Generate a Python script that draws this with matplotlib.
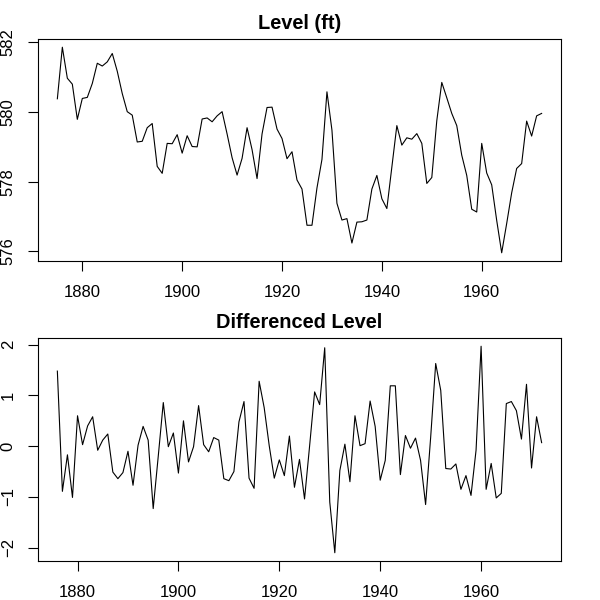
import numpy as np
import matplotlib
matplotlib.use("Agg")
import matplotlib.pyplot as plt

plt.rcParams['font.family'] = ['Liberation Sans', 'DejaVu Sans']

# Lake Huron level, 1875-1972 (ft)
years = list(range(1875, 1973))
level = [580.38, 581.86, 580.97, 580.80, 579.79, 580.39, 580.42, 580.82, 581.40, 581.32,
         581.44, 581.68, 581.17, 580.53, 580.01, 579.91, 579.14, 579.16, 579.55, 579.67,
         578.44, 578.24, 579.10, 579.09, 579.35, 578.82, 579.32, 579.01, 579.00, 579.80,
         579.83, 579.72, 579.89, 580.01, 579.37, 578.69, 578.19, 578.67, 579.55, 578.92,
         578.09, 579.37, 580.13, 580.14, 579.51, 579.24, 578.66, 578.86, 578.05, 577.79,
         576.75, 576.75, 577.82, 578.64, 580.58, 579.48, 577.38, 576.90, 576.94, 576.24,
         576.84, 576.85, 576.90, 577.79, 578.18, 577.51, 577.23, 578.42, 579.61, 579.05,
         579.26, 579.22, 579.38, 579.10, 577.95, 578.12, 579.75, 580.85, 580.41, 579.96,
         579.61, 578.76, 578.18, 577.21, 577.13, 579.10, 578.25, 577.91, 576.89, 575.96,
         576.80, 577.68, 578.38, 578.52, 579.74, 579.31, 579.89, 579.96]

diff_years = years[1:]
diff_level = list(np.diff(level))


def r_style(ax, x, y, title, yticks):
    ax.plot(x, y, color='black', lw=0.8)
    ax.margins(x=0.04, y=0.04)
    ax.set_title(title, fontweight='bold', fontsize=14.4, pad=7)
    ax.set_xticks([1880, 1900, 1920, 1940, 1960])
    ax.set_yticks(yticks)
    ax.tick_params(direction='out', length=7, labelsize=12, width=0.8)
    ax.tick_params(axis='x', pad=10)
    ax.tick_params(axis='y', pad=9)
    for lab in ax.get_yticklabels():
        lab.set_rotation(90)
        lab.set_va('center')
    for s in ax.spines.values():
        s.set_linewidth(0.8)


fig = plt.figure(figsize=(6, 6), dpi=100)
ax1 = fig.add_axes([0.0633, 0.565, 0.8717, 0.37])
ax2 = fig.add_axes([0.0633, 0.065, 0.8717, 0.3717])

r_style(ax1, years, level, 'Level (ft)', [576, 578, 580, 582])
r_style(ax2, diff_years, diff_level, 'Differenced Level', [-2, -1, 0, 1, 2])

fig.savefig('out.png', dpi=100)
